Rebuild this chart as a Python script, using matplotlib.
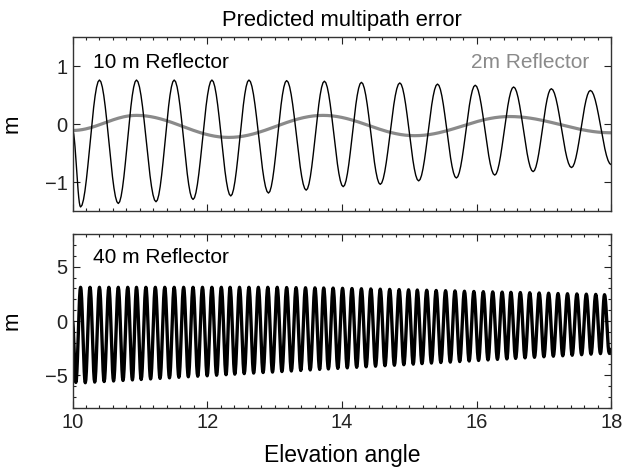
import matplotlib
matplotlib.use("Agg")
import matplotlib.pyplot as plt
from matplotlib.ticker import MultipleLocator
import numpy as np

plt.rcParams['font.family'] = ['Liberation Sans', 'DejaVu Sans']

# 10 m reflector: start, then alternating troughs / peaks
x10 = [10.00, 10.12, 10.40, 10.68, 10.95, 11.24, 11.51, 11.79, 12.07, 12.35, 12.62,
       12.91, 13.18, 13.47, 13.74, 14.02, 14.29, 14.57, 14.86, 15.14, 15.42, 15.70,
       15.98, 16.27, 16.55, 16.84, 17.11, 17.41, 17.69, 18.00]
y10 = [-0.10, -1.43, 0.76, -1.37, 0.76, -1.34, 0.76, -1.30, 0.76, -1.24, 0.76,
       -1.19, 0.75, -1.14, 0.74, -1.08, 0.72, -1.04, 0.71, -0.98, 0.69, -0.93,
       0.67, -0.88, 0.64, -0.82, 0.61, -0.75, 0.58, -0.70]

# 2 m reflector extrema
x2 = [10.00, 10.95, 12.32, 13.72, 15.08, 16.49, 18.00]
y2 = [-0.11, 0.15, -0.23, 0.15, -0.20, 0.13, -0.15]

# 40 m reflector peaks
peak_x40 = [10.12, 10.26, 10.40, 10.54, 10.68, 10.82, 10.95, 11.09, 11.23, 11.37,
            11.51, 11.65, 11.79, 11.93, 12.07, 12.21, 12.34, 12.48, 12.62, 12.76,
            12.90, 13.04, 13.18, 13.32, 13.46, 13.60, 13.73, 13.87, 14.01, 14.15,
            14.29, 14.43, 14.57, 14.71, 14.85, 14.99, 15.12, 15.26, 15.40, 15.54,
            15.68, 15.82, 15.96, 16.10, 16.24, 16.38, 16.51, 16.65, 16.79, 16.93,
            17.07, 17.21, 17.35, 17.49, 17.63, 17.77, 17.90]
peak_y40 = [3.10, 3.10, 3.10, 3.10, 3.10, 3.10, 3.10, 3.10, 3.10, 3.10,
            3.10, 3.10, 3.10, 3.10, 3.10, 3.10, 3.10, 3.10, 3.10, 3.10,
            3.10, 3.10, 3.08, 3.07, 3.06, 3.05, 3.04, 3.03, 3.01, 2.99,
            2.97, 2.95, 2.93, 2.91, 2.89, 2.87, 2.85, 2.83, 2.81, 2.79,
            2.77, 2.74, 2.72, 2.70, 2.68, 2.66, 2.64, 2.62, 2.60, 2.58,
            2.56, 2.53, 2.51, 2.49, 2.47, 2.45, 2.42]
# 40 m reflector troughs
trough_x40 = [10.05, 10.19, 10.33, 10.47, 10.61, 10.75, 10.89, 11.02, 11.16, 11.30,
              11.44, 11.58, 11.72, 11.86, 12.00, 12.14, 12.28, 12.41, 12.55, 12.69,
              12.83, 12.97, 13.11, 13.25, 13.39, 13.53, 13.67, 13.80, 13.94, 14.08,
              14.22, 14.36, 14.50, 14.64, 14.78, 14.92, 15.06, 15.19, 15.33, 15.47,
              15.61, 15.75, 15.89, 16.03, 16.17, 16.31, 16.45, 16.58, 16.72, 16.86,
              17.00, 17.14, 17.28, 17.42, 17.56, 17.70, 17.84, 17.97]
trough_y40 = [-5.65, -5.68, -5.62, -5.57, -5.52, -5.47, -5.42, -5.38, -5.33, -5.28,
              -5.23, -5.18, -5.13, -5.08, -5.04, -4.99, -4.94, -4.89, -4.84, -4.79,
              -4.74, -4.70, -4.65, -4.60, -4.55, -4.50, -4.45, -4.41, -4.36, -4.31,
              -4.26, -4.21, -4.16, -4.11, -4.07, -4.02, -3.97, -3.92, -3.87, -3.82,
              -3.78, -3.73, -3.68, -3.63, -3.58, -3.53, -3.49, -3.44, -3.39, -3.34,
              -3.29, -3.24, -3.20, -3.15, -3.10, -3.05, -3.00, -2.95]
start40 = (10.00, 0.0)
end40 = (18.00, -2.6)


def wave(xk, yk, n=14):
    """smooth half-cosine strokes between successive extrema"""
    xs, ys = [xk[0]], [yk[0]]
    t = np.linspace(0, 1, n)[1:]
    s = (1 - np.cos(np.pi * t)) / 2
    for i in range(len(xk) - 1):
        xs.extend(xk[i] + (xk[i + 1] - xk[i]) * t)
        ys.extend(yk[i] + (yk[i + 1] - yk[i]) * s)
    return np.array(xs), np.array(ys)


def style(ax):
    ax.tick_params(which='both', direction='in', top=True, right=True,
                   labelsize=14.5, width=0.8, colors='#222222')
    ax.tick_params(which='major', length=5)
    ax.tick_params(which='minor', length=2.5)
    for sp in ax.spines.values():
        sp.set_linewidth(1.0)
        sp.set_color('#333333')
    ax.xaxis.set_major_locator(MultipleLocator(2))
    ax.xaxis.set_minor_locator(MultipleLocator(0.2))
    ax.set_xlim(10, 18)
    ax.set_ylabel('m', fontsize=16)
    ax.yaxis.set_label_coords(-0.092, 0.5)


fig = plt.figure(figsize=(6.25, 4.7), dpi=100)
ax1 = fig.add_axes([0.116, 0.551, 0.862, 0.370])
ax2 = fig.add_axes([0.116, 0.132, 0.862, 0.370])

# top panel
gx, gy = wave(x2, y2, n=40)
ax1.plot(gx, gy, color='#8a8a8a', lw=2.3)
bx, by = wave(x10, y10)
ax1.plot(bx, by, color='black', lw=1.0)
ax1.set_ylim(-1.5, 1.5)
ax1.set_yticks([-1, 0, 1])
ax1.set_yticklabels(['\u22121', '0', '1'])
style(ax1)
ax1.tick_params(labelbottom=False)
ax1.text(10.31, 1.06, '10 m Reflector', fontsize=15, va='center', ha='left')
ax1.text(17.67, 1.06, '2m Reflector', fontsize=15, va='center', ha='right',
         color='#8a8a8a')
ax1.set_title('Predicted multipath error', fontsize=15.8, pad=8)

# bottom panel
kx = [start40[0]]
ky = [start40[1]]
for i in range(len(trough_x40)):
    kx.append(trough_x40[i])
    ky.append(trough_y40[i])
    if i < len(peak_x40):
        kx.append(peak_x40[i])
        ky.append(peak_y40[i])
kx.append(end40[0])
ky.append(end40[1])
wx, wy = wave(kx, ky, n=10)
ax2.plot(wx, wy, color='black', lw=2.4)
ax2.set_ylim(-8, 8)
ax2.set_yticks([-5, 0, 5])
ax2.set_yticklabels(['\u22125', '0', '5'])
ax2.yaxis.set_minor_locator(MultipleLocator(1))
style(ax2)
ax2.text(10.30, 5.85, '40 m Reflector', fontsize=15, va='center', ha='left')
ax2.set_xlabel('Elevation angle', fontsize=16.5, labelpad=9)

fig.savefig('out.png', dpi=100)
